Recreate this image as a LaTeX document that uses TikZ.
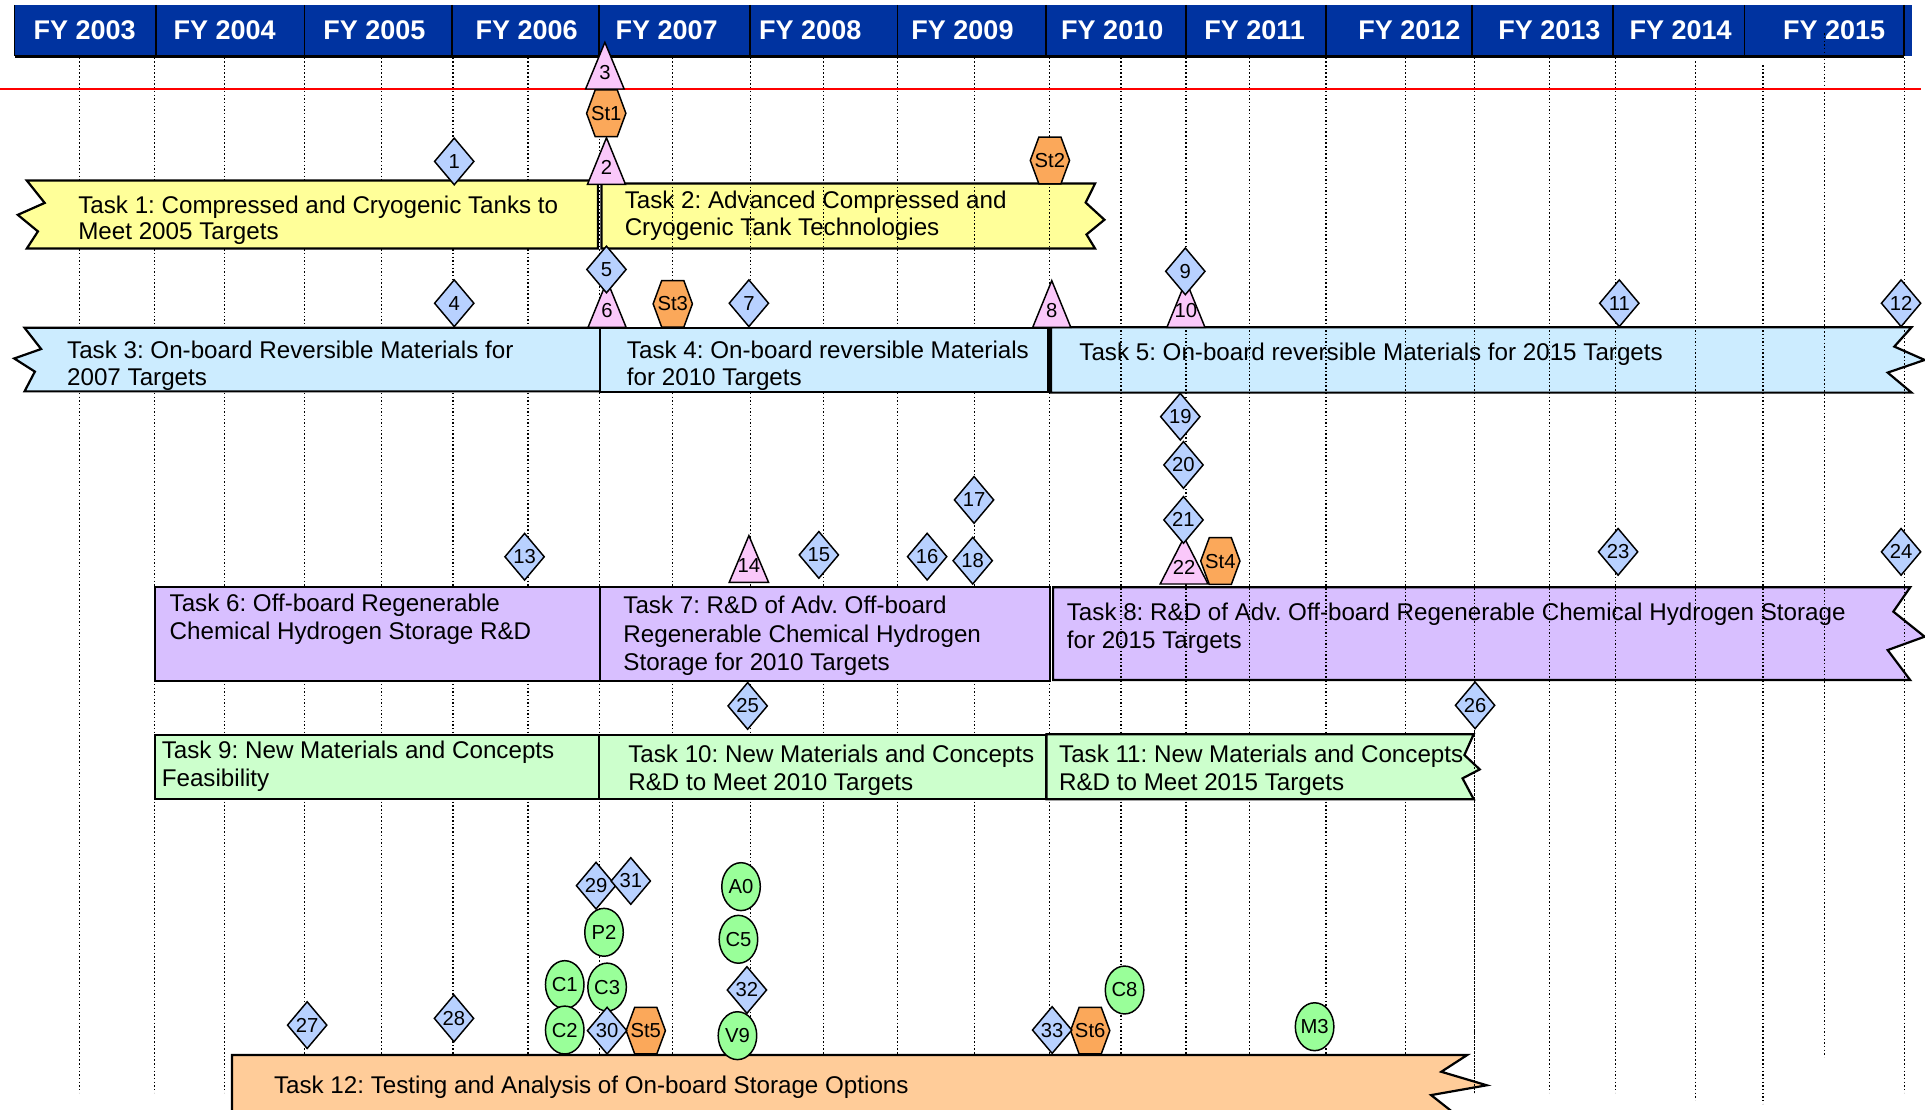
\documentclass[tikz,border=0pt]{standalone}
\usepackage{fontspec}
\setmainfont{Liberation Sans}
\frenchspacing
\definecolor{hdrblue}{RGB}{0,51,160}
\definecolor{tyellow}{RGB}{255,255,153}
\definecolor{tblue}{RGB}{204,236,255}
\definecolor{tpurple}{RGB}{216,191,255}
\definecolor{tgreen}{RGB}{204,255,204}
\definecolor{tpeach}{RGB}{255,204,153}
\definecolor{diablue}{RGB}{184,209,255}
\definecolor{tripink}{RGB}{250,200,250}
\definecolor{hexorange}{RGB}{251,168,90}
\definecolor{ellgreen}{RGB}{153,255,153}
\tikzset{
  fylabel/.style={text=white, font=\fontsize{22}{22}\selectfont\bfseries, inner sep=0pt, anchor=base},
  gridline/.style={line width=1pt, dash pattern=on 1.2pt off 1.8pt, black},
  taskbar/.style={draw=black, line width=1.8pt, line join=miter},
  tasktext/.style={font=\fontsize{19.7}{23}\selectfont, inner sep=0pt, anchor=base west},
  mlabel/.style={font=\fontsize{16.5}{16.5}\selectfont, inner sep=0pt},
  mshape/.style={draw=black, line width=1.2pt, line join=miter}
}
% diamond: name, x, y, label
\newcommand{\msdia}[4]{%
  \path[mshape,fill=diablue] (#2,#3) +(0,-19) -- +(16,0) -- +(0,19) -- +(-16,0) -- cycle;
  \node[mlabel] (#1) at (#2,#3) {#4};}
% triangle: name, x, ybase, halfwidth, label
\newcommand{\mstri}[5]{%
  \path[mshape,fill=tripink] (#2,#3) +(-#4,0) -- +(0,-38) -- +(#4,0) -- cycle;
  \node[mlabel] (#1) at (#2,#3-13.5) {#5};}
% hexagon: name, x, y, label
\newcommand{\mshex}[4]{%
  \path[mshape,fill=hexorange] (#2,#3) +(-9,-19) -- +(9,-19) -- +(16,0) -- +(9,19) -- +(-9,19) -- +(-16,0) -- cycle;
  \node[mlabel] (#1) at (#2,#3) {#4};}
% ellipse: name, x, y, label
\newcommand{\msell}[4]{%
  \path[mshape,fill=ellgreen] (#2,#3) ellipse [x radius=15.7pt, y radius=19.5pt];
  \node[mlabel] (#1) at (#2,#3) {#4};}
\begin{document}
\begin{tikzpicture}[x=1pt,y=-1pt]
\useasboundingbox (0,0) rectangle (1568,904);
\clip (0,0) rectangle (1568,904);
\fill[white] (0,0) rectangle (1568,904);

% header
\fill[hdrblue] (12,4) rectangle (1557,46);
\foreach \x in {12,127,248,368,488,611,731,852,966,1080,1199,1314,1421,1551}
  \draw[black, line width=1.2pt] (\x,4) -- (\x,46);
\draw[black, line width=2pt] (12,46) -- (1551,46);
\node[fylabel] (fy2003) at (69,32.5) {FY 2003};
\node[fylabel] (fy2004) at (183,32.5) {FY 2004};
\node[fylabel] (fy2005) at (305,32.5) {FY 2005};
\node[fylabel] (fy2006) at (429,32.5) {FY 2006};
\node[fylabel] (fy2007) at (543,32.5) {FY 2007};
\node[fylabel] (fy2008) at (660,32.5) {FY 2008};
\node[fylabel] (fy2009) at (784,32.5) {FY 2009};
\node[fylabel] (fy2010) at (906,32.5) {FY 2010};
\node[fylabel] (fy2011) at (1022,32.5) {FY 2011};
\node[fylabel] (fy2012) at (1148,32.5) {FY 2012};
\node[fylabel] (fy2013) at (1262,32.5) {FY 2013};
\node[fylabel] (fy2014) at (1369,32.5) {FY 2014};
\node[fylabel] (fy2015) at (1494,32.5) {FY 2015};

% bars lying under the grid
\path[taskbar,fill=tyellow] (490,149.5) -- (892,149.5) -- (884.3,165) -- (899.6,179) -- (885,191) -- (892,202.5) -- (490,202.5) -- cycle;
\path[taskbar,fill=tblue] (856,266.6) -- (1557,266.6) -- (1543,282.3) -- (1567.7,293.2) -- (1537.6,303.5) -- (1557,319.8) -- (856,319.8) -- cycle;
\path[taskbar,fill=tpurple] (857.8,478.4) -- (1555.9,478.4) -- (1542.2,498.2) -- (1567.7,518.6) -- (1537.6,529.5) -- (1555.9,553.9) -- (857.8,553.9) -- cycle;

% grid
\foreach \x in {65,126,183,248,311,369,430,488,548,611,671,731,794,855,913,966,1018,1080,1145,1201,1262,1316,1551}
  \draw[gridline] (\x,47) -- (\x,890);
\draw[gridline] (1381,50) -- (1381,896);
\draw[gridline] (1436,53) -- (1436,899);
\draw[gridline] (1486,27) -- (1486,861);

% red line
\draw[red, line width=2pt] (0,72.5) -- (1565,72.5);

% other bars
\path[taskbar,fill=tyellow] (21.8,147) -- (487,147) -- (487,202.5) -- (21.8,202.5) -- (30.9,188.5) -- (14.5,175) -- (36.4,165.3) -- cycle;
\path[taskbar,fill=tblue] (20,267) -- (489,267) -- (489,318.8) -- (20,318.8) -- (28.4,302.7) -- (11.6,292) -- (33.5,284.3) -- cycle;
\path[taskbar,fill=tblue] (489,267) rectangle (854,319);
\path[taskbar,fill=tpurple] (126.5,478.4) rectangle (489,554.4);
\path[taskbar,fill=tpurple] (489,478.4) rectangle (855.3,554.4);
\path[taskbar,fill=tgreen] (126.5,598.7) rectangle (488,650.8);
\path[taskbar,fill=tgreen] (488,598.7) rectangle (852.4,650.8);
\path[taskbar,fill=tgreen] (852.4,598) -- (1200.4,598) -- (1192.8,615) -- (1205.3,626.7) -- (1191.3,634) -- (1200.4,651) -- (852.4,651) -- cycle;
\path[taskbar,fill=tpeach] (189,859.4) -- (1195,859.4) -- (1174,873) -- (1211,884) -- (1165.7,892) -- (1186,908) -- (189,908) -- cycle;
\draw[gridline] (1201,592) -- (1201,890);

% task texts
\node[tasktext] (t1a) at (63.6,173.5) {Task 1: Compressed and Cryogenic Tanks to};
\node[tasktext] (t1b) at (63.6,195) {Meet 2005 Targets};
\node[tasktext] (t2a) at (508.7,169.5) {Task 2: Advanced Compressed and};
\node[tasktext] (t2b) at (508.7,191.5) {Cryogenic Tank Technologies};
\node[tasktext] (t3a) at (54.5,292) {Task 3: On-board Reversible Materials for};
\node[tasktext] (t3b) at (54.5,314) {2007 Targets};
\node[tasktext] (t4a) at (510.5,292) {Task 4: On-board reversible Materials};
\node[tasktext] (t4b) at (510.5,314) {for 2010 Targets};
\node[tasktext] (t5a) at (879,294) {Task 5: On-board reversible Materials for 2015 Targets};
\node[tasktext] (t6a) at (138,498) {Task 6: Off-board Regenerable};
\node[tasktext] (t6b) at (138,521) {Chemical Hydrogen Storage R\&D};
\node[tasktext] (t7a) at (507.6,500) {Task 7: R\&D of Adv. Off-board};
\node[tasktext] (t7b) at (507.6,523) {Regenerable Chemical Hydrogen};
\node[tasktext] (t7c) at (507.6,546.5) {Storage for 2010 Targets};
\node[tasktext] (t8a) at (868.8,505.5) {Task 8: R\&D of Adv. Off-board Regenerable Chemical Hydrogen Storage};
\node[tasktext] (t8b) at (868.8,528.5) {for 2015 Targets};
\node[tasktext] (t9a) at (131.6,618) {Task 9: New Materials and Concepts};
\node[tasktext] (t9b) at (131.6,641) {Feasibility};
\node[tasktext] (t10a) at (511.6,621) {Task 10: New Materials and Concepts};
\node[tasktext] (t10b) at (511.6,644) {R\&D to Meet 2010 Targets};
\node[tasktext] (t11a) at (862.5,621) {Task 11: New Materials and Concepts};
\node[tasktext] (t11b) at (862.5,644) {R\&D to Meet 2015 Targets};
\node[tasktext] (t12a) at (223,891) {Task 12: Testing and Analysis of On-board Storage Options};

% triangles
\mstri{m3}{492.7}{72.5}{15.7}{3}
\mstri{m2}{494}{150.2}{15.5}{2}
\mstri{m6}{494.5}{266.6}{15.5}{6}
\mstri{m8}{856.7}{266.6}{15.5}{8}
\mstri{m10}{966}{266.6}{15.5}{10}
\mstri{m14}{610}{474.3}{16}{14}
\mstri{m22}{964.5}{475.7}{19.5}{22}

% hexagons
\mshex{st1}{493.8}{92.3}{St1}
\mshex{st2}{855.2}{130.7}{St2}
\mshex{st3}{548}{247.5}{St3}
\mshex{st4}{994}{457}{St4}
\mshex{st5}{526}{839.5}{St5}
\mshex{st6}{888}{839.5}{St6}

% diamonds
\msdia{m1}{370}{131.5}{1}
\msdia{m4}{370}{247}{4}
\msdia{m5}{494}{219.5}{5}
\msdia{m7}{610}{247}{7}
\msdia{m9}{965.5}{221}{9}
\msdia{m11}{1319}{247}{11}
\msdia{m12}{1548.5}{247}{12}
\msdia{m13}{427.3}{453.5}{13}
\msdia{m15}{667}{452}{15}
\msdia{m16}{755.2}{453.4}{16}
\msdia{m17}{793.4}{407.2}{17}
\msdia{m18}{792.3}{456.7}{18}
\msdia{m19}{961.4}{339.4}{19}
\msdia{m20}{964}{378.7}{20}
\msdia{m21}{964}{423.5}{21}
\msdia{m23}{1318}{449.5}{23}
\msdia{m24}{1548.5}{449.5}{24}
\msdia{m25}{609}{575}{25}
\msdia{m26}{1201.5}{574.5}{26}
\msdia{m27}{250.2}{835}{27}
\msdia{m28}{369.8}{829.5}{28}
\msdia{m29}{485.5}{721.4}{29}
\msdia{m31}{513.8}{717.6}{31}
\msdia{m32}{608.4}{806.4}{32}
\msdia{m33}{857}{839}{33}

% ellipses
\msell{p2}{492}{759.4}{P2}
\msell{c1}{460}{802}{C1}
\msell{c3}{494.5}{804}{C3}
\msell{c2}{460}{839}{C2}
\msdia{m30}{494.5}{839.5}{30}
\msell{a0}{603.6}{722.2}{A0}
\msell{c5}{601.5}{765.1}{C5}
\msell{v9}{600.7}{843.6}{V9}
\msell{c8}{916}{806.4}{C8}
\msell{m3e}{1070.8}{836.3}{M3}
\end{tikzpicture}
\end{document}
